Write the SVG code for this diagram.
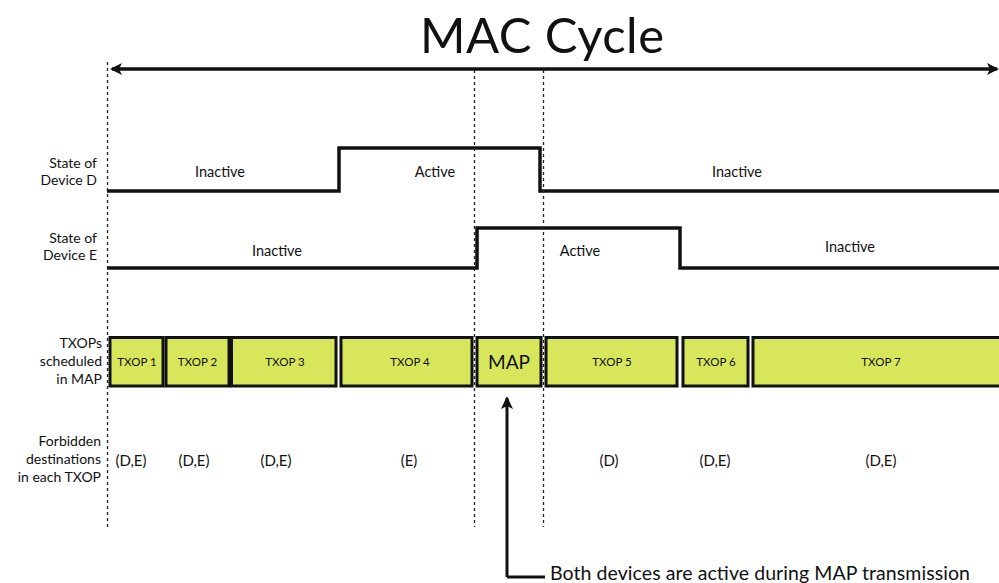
<svg xmlns="http://www.w3.org/2000/svg" width="999" height="583" viewBox="0 0 999 583">
<defs>
<style>
text{font-family:"Lato","Open Sans","DejaVu Sans",sans-serif;fill:#111}
.lbl{font-size:14px;text-anchor:end}
.st{font-size:14.5px;text-anchor:middle}
.tx{font-size:11.5px;text-anchor:middle}
.fb{font-size:15px;text-anchor:middle}
.box{fill:#d8e65c;stroke:#111;stroke-width:3}
.sig{fill:none;stroke:#111;stroke-width:3.5}
.dash{fill:none;stroke:#222;stroke-width:1.3;stroke-dasharray:3 3}
</style>
<marker id="ah" markerWidth="12" markerHeight="12" refX="10" refY="6" orient="auto-start-reverse" markerUnits="userSpaceOnUse">
<path d="M0,0 L12,6 L0,12 L3,6 Z" fill="#111"/>
</marker>
<marker id="up" markerWidth="12" markerHeight="14" refX="11" refY="6" orient="auto" markerUnits="userSpaceOnUse">
<path d="M0,0 L13,6 L0,12 L3,6 Z" fill="#111"/>
</marker>
</defs>
<rect width="999" height="583" fill="#fff"/>

<text id="title" x="542" y="53" font-size="49" text-anchor="middle" textLength="244">MAC Cycle</text>

<g id="labels">
<text class="lbl" x="97" y="168">State of</text>
<text class="lbl" x="97" y="185">Device D</text>
<text class="lbl" x="97" y="243">State of</text>
<text class="lbl" x="97" y="260">Device E</text>
<text class="lbl" x="102" y="348">TXOPs</text>
<text class="lbl" x="102" y="366">scheduled</text>
<text class="lbl" x="102" y="384">in MAP</text>
<text class="lbl" x="101" y="446">Forbidden</text>
<text class="lbl" x="101" y="464">destinations</text>
<text class="lbl" x="101" y="482">in each TXOP</text>
</g>

<g id="deviceD">
<path class="sig" d="M107,191 H339 V148 H540 V191 H999"/>
<text class="st" x="220" y="177">Inactive</text>
<text class="st" x="435" y="177">Active</text>
<text class="st" x="737" y="177">Inactive</text>
</g>

<g id="deviceE">
<path class="sig" d="M107,268 H477 V228 H680 V268 H999"/>
<text class="st" x="277" y="256">Inactive</text>
<text class="st" x="580" y="256">Active</text>
<text class="st" x="850" y="252">Inactive</text>
</g>

<g id="txop1"><rect class="box" x="110" y="337.5" width="53" height="48.5"/><text class="tx" x="137" y="366">TXOP 1</text><text class="fb" x="131" y="466">(D,E)</text></g>
<g id="txop2"><rect class="box" x="166" y="337.5" width="63" height="48.5"/><text class="tx" x="197.5" y="366">TXOP 2</text><text class="fb" x="194" y="466">(D,E)</text></g>
<g id="txop3"><rect class="box" x="231.5" y="337.5" width="104.5" height="48.5"/><text class="tx" x="285" y="366">TXOP 3</text><text class="fb" x="276" y="466">(D,E)</text></g>
<g id="txop4"><rect class="box" x="341" y="337.5" width="131" height="48.5"/><text class="tx" x="410" y="366">TXOP 4</text><text class="fb" x="409" y="466">(E)</text></g>
<g id="map"><rect class="box" x="477" y="337.5" width="64" height="48.5"/><text x="509" y="369" font-size="19" text-anchor="middle">MAP</text></g>
<g id="txop5"><rect class="box" x="546" y="337.5" width="131" height="48.5"/><text class="tx" x="612" y="366">TXOP 5</text><text class="fb" x="609" y="466">(D)</text></g>
<g id="txop6"><rect class="box" x="683" y="337.5" width="65" height="48.5"/><text class="tx" x="716" y="366">TXOP 6</text><text class="fb" x="715" y="466">(D,E)</text></g>
<g id="txop7"><rect class="box" x="753" y="337.5" width="260" height="48.5"/><text class="tx" x="881" y="366">TXOP 7</text><text class="fb" x="881" y="466">(D,E)</text></g>

<g id="connectors">
<line class="dash" x1="107.5" y1="62" x2="107.5" y2="527"/>
<line class="dash" x1="474.5" y1="70" x2="474.5" y2="527"/>
<line class="dash" x1="543.5" y1="70" x2="543.5" y2="527"/>
<line x1="112" y1="69" x2="997" y2="69" stroke="#111" stroke-width="3.5" marker-start="url(#ah)" marker-end="url(#ah)"/>
<path d="M507,577 V398" fill="none" stroke="#111" stroke-width="3" marker-end="url(#up)"/>
<path d="M507,577 H545" fill="none" stroke="#111" stroke-width="3"/>
</g>
<text id="note" x="550" y="580" font-size="19.5" textLength="420">Both devices are active during MAP transmission</text>
</svg>
